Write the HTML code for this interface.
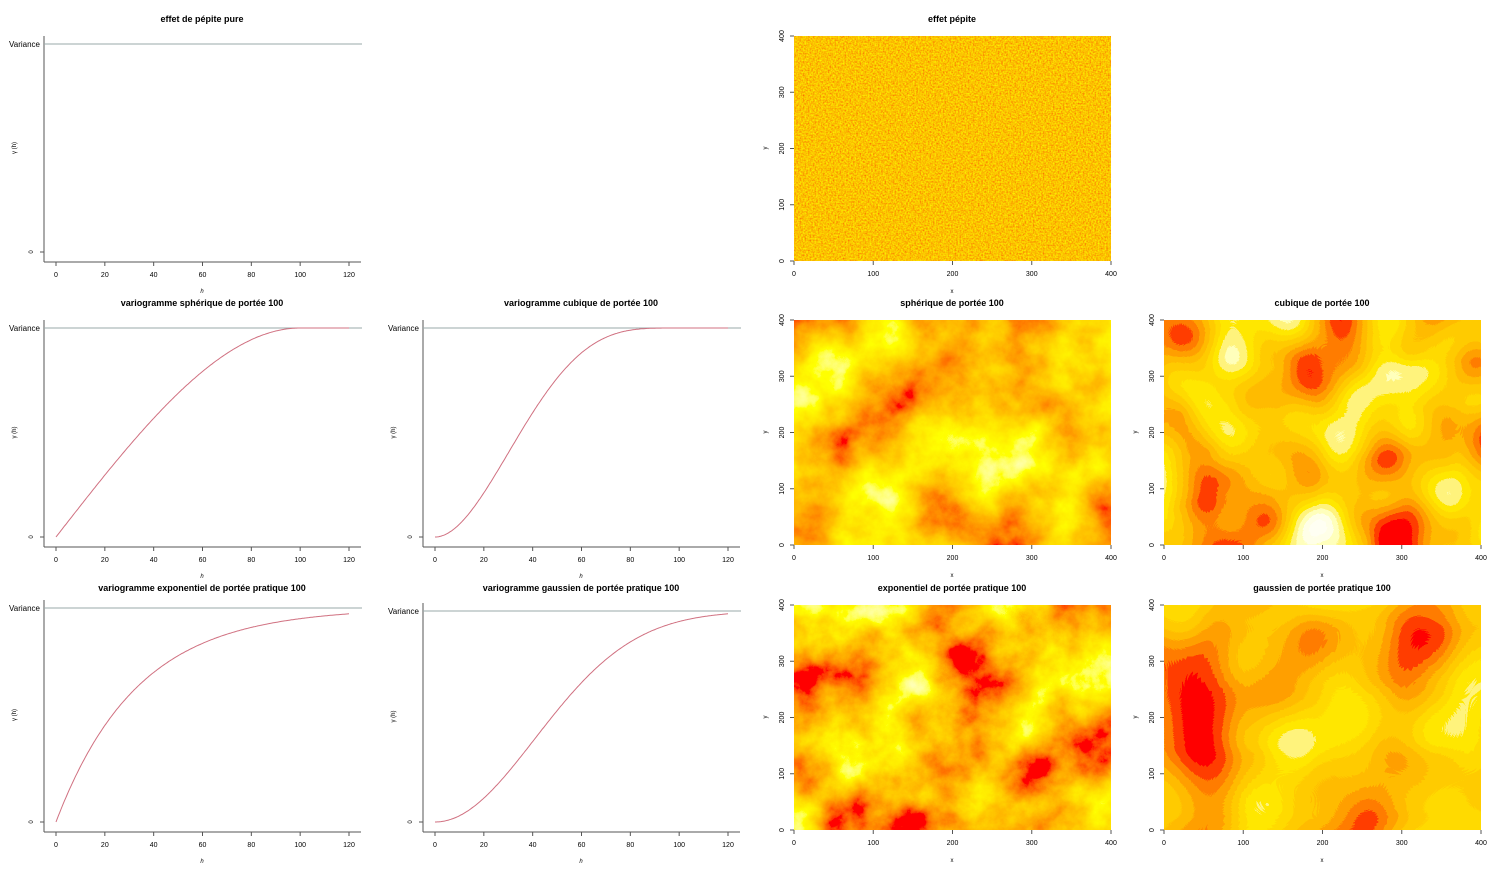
<!DOCTYPE html>
<html><head><meta charset="utf-8"><style>
html,body{margin:0;padding:0;background:#fff;width:1500px;height:875px;overflow:hidden}
svg{font-family:"Liberation Sans",sans-serif}
</style></head><body>
<svg id="s" width="1500" height="875" viewBox="0 0 1500 875" xmlns="http://www.w3.org/2000/svg">
<defs>
<filter id="fn" x="0" y="0" width="100%" height="100%">
<feTurbulence type="fractalNoise" baseFrequency="0.6" numOctaves="2" seed="3"/>
<feColorMatrix values="1 0 0 0 0 1 0 0 0 0 1 0 0 0 0 0 0 0 0 1"/>
<feComponentTransfer><feFuncR type="linear" slope="0" intercept="0.97"/><feFuncG type="linear" slope="1.1" intercept="0.0"/><feFuncB type="linear" slope="0" intercept="0"/></feComponentTransfer>
</filter>
<filter id="fs" x="0" y="0" width="100%" height="100%">
<feTurbulence type="fractalNoise" baseFrequency="0.012" numOctaves="6" seed="7"/>
<feColorMatrix values="1 0 0 0 0 1 0 0 0 0 1 0 0 0 0 0 0 0 0 1"/>
<feComponentTransfer><feFuncR type="linear" slope="0" intercept="1"/><feFuncG type="linear" slope="2.2" intercept="-0.5"/><feFuncB type="linear" slope="3" intercept="-2.1"/></feComponentTransfer>
</filter>
<filter id="fe" x="0" y="0" width="100%" height="100%">
<feTurbulence type="fractalNoise" baseFrequency="0.014" numOctaves="7" seed="11"/>
<feColorMatrix values="1 0 0 0 0 1 0 0 0 0 1 0 0 0 0 0 0 0 0 1"/>
<feComponentTransfer><feFuncR type="linear" slope="0" intercept="1"/><feFuncG type="linear" slope="2.2" intercept="-0.55"/><feFuncB type="linear" slope="3" intercept="-2.1"/></feComponentTransfer>
</filter>
<filter id="fc" x="0" y="0" width="100%" height="100%">
<feTurbulence type="fractalNoise" baseFrequency="0.011" numOctaves="2" seed="5"/>
<feColorMatrix values="1 0 0 0 0 1 0 0 0 0 1 0 0 0 0 0 0 0 0 1"/>
<feComponentTransfer><feFuncR type="linear" slope="0" intercept="1"/><feFuncG type="discrete" tableValues="0 0 0 0 0 0 0.05 0.2 0.35 0.5 0.6 0.7 0.8 0.9 1 1 1 1 1 1"/><feFuncB type="discrete" tableValues="0 0 0 0 0 0 0 0 0 0 0 0 0 0.2 0.5 0.8 0.9 0.9 0.9 0.9"/></feComponentTransfer>
</filter>
<filter id="fg" x="0" y="0" width="100%" height="100%">
<feTurbulence type="fractalNoise" baseFrequency="0.008" numOctaves="2" seed="19"/>
<feColorMatrix values="1 0 0 0 0 1 0 0 0 0 1 0 0 0 0 0 0 0 0 1"/>
<feComponentTransfer><feFuncR type="linear" slope="0" intercept="1"/><feFuncG type="discrete" tableValues="0 0 0 0 0 0 0.05 0.2 0.35 0.5 0.6 0.7 0.8 0.9 1 1 1 1 1 1"/><feFuncB type="discrete" tableValues="0 0 0 0 0 0 0 0 0 0 0 0 0 0.2 0.5 0.8 0.9 0.9 0.9 0.9"/></feComponentTransfer>
</filter>
</defs>
<g id="g"></g>
</svg>
<script>
var g=document.getElementById('g'),o='';
function t(x,y,s,sz,extra){o+='<text x="'+x+'" y="'+y+'" font-size="'+sz+'" text-anchor="middle" '+(extra||'')+'>'+s+'</text>';}
function vario(x0,yt,yb,ty,title,f){
  var ax=yb+10,sc=293/120,X=function(h){return x0+12+h*sc},H=yb-yt;
  t(x0+158,ty,title,9,'font-weight="bold"');
  o+='<line x1="'+x0+'" y1="'+(yt-8)+'" x2="'+x0+'" y2="'+ax+'" stroke="#555" stroke-width="1"/>';
  o+='<line x1="'+x0+'" y1="'+ax+'" x2="'+(x0+317)+'" y2="'+ax+'" stroke="#555" stroke-width="1"/>';
  o+='<line x1="'+x0+'" y1="'+yt+'" x2="'+(x0+318)+'" y2="'+yt+'" stroke="#9aa" stroke-width="1"/>';
  for(var h=0;h<=120;h+=20){var xx=X(h);o+='<line x1="'+xx+'" y1="'+ax+'" x2="'+xx+'" y2="'+(ax+4)+'" stroke="#555"/>';t(xx,ax+15,h,7);}
  o+='<line x1="'+(x0-4)+'" y1="'+yb+'" x2="'+x0+'" y2="'+yb+'" stroke="#555"/>';
  o+='<text x="'+(x0-4)+'" y="'+(yt+3)+'" font-size="8" text-anchor="end">Variance</text>';
  o+='<text transform="translate('+(x0-11)+','+yb+') rotate(-90)" font-size="6" text-anchor="middle">0</text>';
  o+='<text transform="translate('+(x0-28)+','+(yt+H/2)+') rotate(-90)" font-size="6" text-anchor="middle">γ (h)</text>';
  t(x0+158,ax+31,'h',6,'font-style="italic"');
  if(f){var p='';for(var h=0;h<=120;h+=0.5){p+=(h?'L':'M')+X(h).toFixed(1)+' '+(yb-H*f(h)).toFixed(1);}
  o+='<path d="'+p+'" fill="none" stroke="#d07080" stroke-width="1"/>';}
}
function heat(x0,yt,ty,title,fid){
  var yb=yt+225,w=317;
  t(x0+158,ty,title,9,'font-weight="bold"');
  o+='<rect x="'+x0+'" y="'+yt+'" width="'+w+'" height="225" filter="url(#'+fid+')"/>';
  for(var v=0;v<=400;v+=100){var xx=x0+v*w/400,yy=yb-v*225/400;
   o+='<line x1="'+xx+'" y1="'+yb+'" x2="'+xx+'" y2="'+(yb+4)+'" stroke="#555"/>';t(xx,yb+15,v,7);
   o+='<line x1="'+(x0-4)+'" y1="'+yy+'" x2="'+x0+'" y2="'+yy+'" stroke="#555"/>';
   o+='<text transform="translate('+(x0-10)+','+yy+') rotate(-90)" font-size="7" text-anchor="middle">'+v+'</text>';}
  t(x0+158,yb+32,'x',6);
  o+='<text transform="translate('+(x0-27)+','+(yt+112)+') rotate(-90)" font-size="6" text-anchor="middle">y</text>';
}
function sph(h){var r=h/100;return r>=1?1:1.5*r-0.5*r*r*r}
function cub(h){var r=h/100;return r>=1?1:7*r*r-8.75*r*r*r+3.5*Math.pow(r,5)-0.75*Math.pow(r,7)}
function ex(h){return 1-Math.exp(-3*h/100)}
function ga(h){return 1-Math.exp(-3*h*h/10000)}
vario(44,44,252,22,'effet de pépite pure',null);
vario(44,328,537,306,'variogramme sphérique de portée 100',sph);
vario(423,328,537,306,'variogramme cubique de portée 100',cub);
vario(44,608,822,591,'variogramme exponentiel de portée pratique 100',ex);
vario(423,611,822,591,'variogramme gaussien de portée pratique 100',ga);
heat(794,36,22,'effet pépite','fn');
heat(794,320,306,'sphérique de portée 100','fs');
heat(1164,320,306,'cubique de portée 100','fc');
heat(794,605,591,'exponentiel de portée pratique 100','fe');
heat(1164,605,591,'gaussien de portée pratique 100','fg');
g.innerHTML=o;
</script>
</body></html>
